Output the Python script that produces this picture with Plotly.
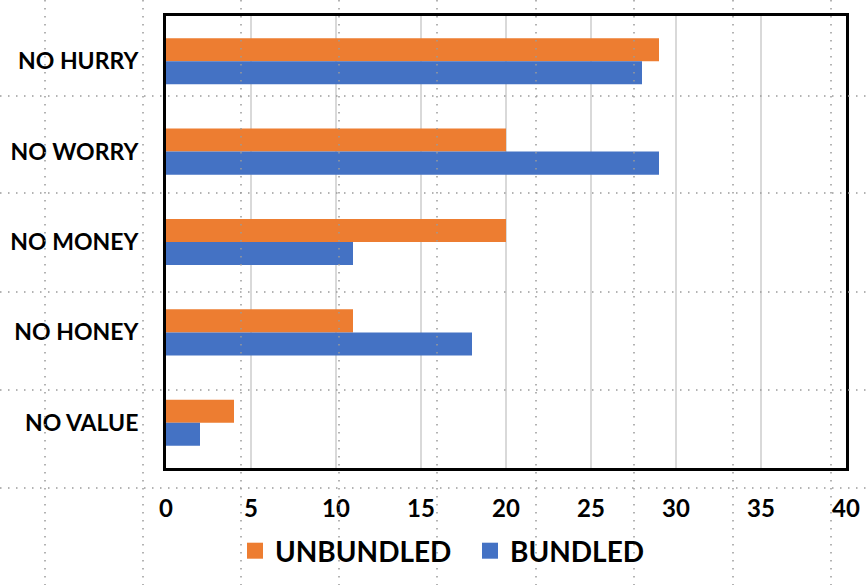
import plotly.graph_objects as go

categories = ["NO HURRY", "NO WORRY", "NO MONEY", "NO HONEY", "NO VALUE"]
unbundled = [29, 20, 20, 11, 4]
bundled = [28, 29, 11, 18, 2]
x_ticks = [0, 5, 10, 15, 20, 25, 30, 35, 40]

W, H = 866, 585
L, R, T, B = 166, 20, 16, 117
PW, PH = W - L - R, H - T - B

# decorative dotted page grid (pixel positions in the image)
dot_x_px = [45, 143, 241, 339, 437, 536, 634, 733, 831]
dot_y_px = [96, 193, 292, 390, 488]

def px_x(p):
    return (p - L) / PW

def px_y(p):
    return 1 - (p - T) / PH

FONT = "Lato"

fig = go.Figure()
fig.add_trace(go.Bar(y=categories, x=unbundled, orientation="h", name="UNBUNDLED",
                     marker=dict(color="#ED7D31", line=dict(width=0)), showlegend=False))
fig.add_trace(go.Bar(y=categories, x=bundled, orientation="h", name="BUNDLED",
                     marker=dict(color="#4472C4", line=dict(width=0)), showlegend=False))
# legend entries with larger square swatches
fig.add_trace(go.Scatter(x=[None], y=[None], mode="markers", name="UNBUNDLED",
                         marker=dict(symbol="square", size=16, color="#ED7D31")))
fig.add_trace(go.Scatter(x=[None], y=[None], mode="markers", name="BUNDLED",
                         marker=dict(symbol="square", size=16, color="#4472C4")))

shapes = []
for p in dot_x_px:
    shapes.append(dict(type="line", xref="paper", yref="paper",
                       x0=px_x(p), x1=px_x(p), y0=px_y(0), y1=px_y(H),
                       line=dict(color="#9a9a9a", width=1.5, dash="1.5px,6.5px"), layer="above"))
for p in dot_y_px:
    shapes.append(dict(type="line", xref="paper", yref="paper",
                       x0=px_x(0), x1=px_x(W), y0=px_y(p), y1=px_y(p),
                       line=dict(color="#9a9a9a", width=1.5, dash="1.5px,6.5px"), layer="above"))

fig.update_layout(
    width=W, height=H,
    margin=dict(l=L, r=R, t=T, b=B, autoexpand=False),
    paper_bgcolor="white", plot_bgcolor="white",
    barmode="group", bargap=0.49, bargroupgap=0,
    font=dict(family=FONT, color="black", weight="bold"),
    shapes=shapes,
    legend=dict(orientation="h", x=px_x(470), xanchor="center", y=px_y(551), yanchor="middle",
                font=dict(family=FONT, size=28, color="black", weight="bold"),
                entrywidth=190, entrywidthmode="pixels",
                itemsizing="trace", bgcolor="rgba(0,0,0,0)"),
    xaxis=dict(range=[0, 40], tickvals=x_ticks, ticktext=[str(v) for v in x_ticks],
               automargin=False,
               showgrid=True, gridcolor="#d9d9d9", gridwidth=1.5, zeroline=False,
               showline=True, linecolor="black", linewidth=3, mirror=True, ticks="",
               tickfont=dict(family=FONT, size=24, color="black", weight="bold"),
               ticklabelstandoff=17),
    yaxis=dict(categoryorder="array", categoryarray=categories, autorange="reversed",
               automargin=False,
               showgrid=False, zeroline=False,
               showline=True, linecolor="black", linewidth=3, mirror=True, ticks="",
               tickfont=dict(family=FONT, size=23, color="black", weight="bold"),
               ticklabelstandoff=20),
)

fig.write_html("out.html")
